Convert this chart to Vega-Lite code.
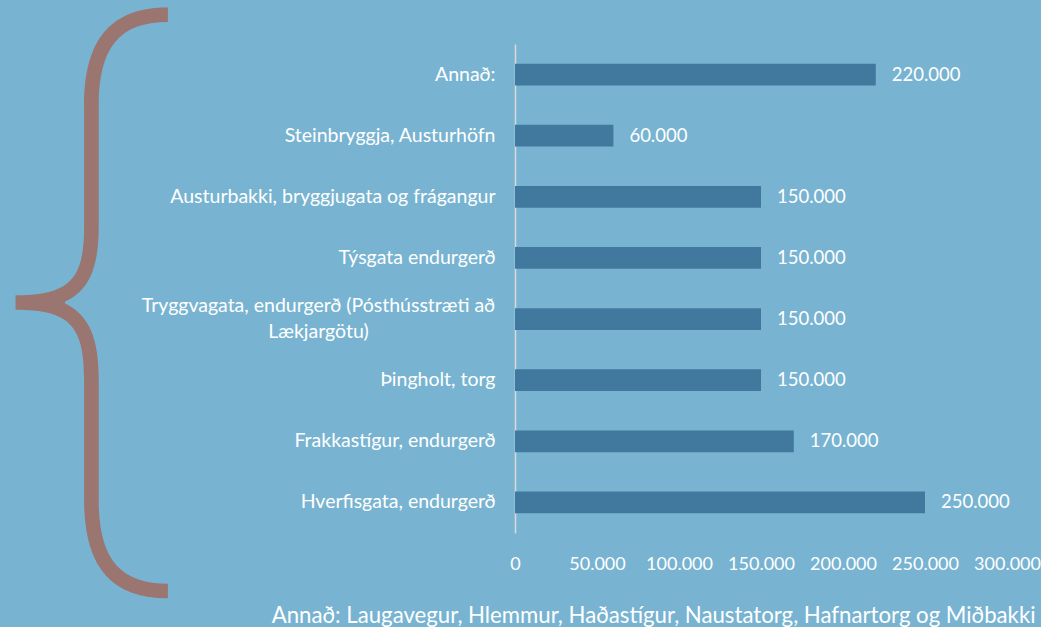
{
  "$schema": "https://vega.github.io/schema/vega-lite/v6.json",
  "width": 492,
  "height": 489,
  "autosize": {"type": "none"},
  "padding": {"left": 515, "top": 44, "right": 34, "bottom": 94},
  "background": "#78b4d1",
  "config": {
    "view": {"stroke": null},
    "font": "Lato",
    "locale": {"number": {"decimal": ",", "thousands": ".", "grouping": [3], "currency": ["", " kr."]}}
  },
  "data": {
    "values": [
      {"verkefni": "Annað:", "upphaed": 220000},
      {"verkefni": "Steinbryggja, Austurhöfn", "upphaed": 60000},
      {"verkefni": "Austurbakki, bryggjugata og frágangur", "upphaed": 150000},
      {"verkefni": "Týsgata endurgerð", "upphaed": 150000},
      {"verkefni": "Tryggvagata, endurgerð (Pósthússtræti að Lækjargötu)", "upphaed": 150000},
      {"verkefni": "Þingholt, torg", "upphaed": 150000},
      {"verkefni": "Frakkastígur, endurgerð", "upphaed": 170000},
      {"verkefni": "Hverfisgata, endurgerð", "upphaed": 250000}
    ]
  },
  "encoding": {
    "y": {
      "field": "verkefni",
      "type": "nominal",
      "sort": null,
      "scale": {"paddingInner": 0.645, "paddingOuter": 0.3225},
      "axis": {
        "title": "{",
        "titleFont": "Inter",
        "titleFontWeight": 100,
        "titleFontSize": 650,
        "titleColor": "#9b7570",
        "titleAngle": 0,
        "titleAlign": "center",
        "titleBaseline": "middle",
        "titleX": -426,
        "titleY": 270,
        "labelFont": "Lato",
        "labelFontSize": 19.5,
        "labelColor": "#ffffff",
        "labelLimit": 0,
        "labelLineHeight": 26,
        "labelExpr": "datum.value == 'Tryggvagata, endurgerð (Pósthússtræti að Lækjargötu)' ? ['Tryggvagata, endurgerð (Pósthússtræti að', 'Lækjargötu)'] : datum.label",
        "labelAlign": {"condition": {"test": "datum.value == 'Tryggvagata, endurgerð (Pósthússtræti að Lækjargötu)'", "value": "center"}, "value": "right"},
        "labelPadding": {"condition": {"test": "datum.value == 'Tryggvagata, endurgerð (Pósthússtræti að Lækjargötu)'", "value": 197}, "value": 20},
        "labelOffset": {"condition": {"test": "datum.value == 'Tryggvagata, endurgerð (Pósthússtræti að Lækjargötu)'", "value": -13}, "value": 0},
        "ticks": false,
        "grid": false,
        "domainColor": "#d9d9d9",
        "domainWidth": 1.5
      }
    },
    "x": {
      "field": "upphaed",
      "type": "quantitative",
      "scale": {"domain": [0, 300000]},
      "axis": {
        "title": "Annað: Laugavegur, Hlemmur, Haðastígur, Naustatorg, Hafnartorg og Miðbakki",
        "titleFont": "Lato",
        "titleFontSize": 22.2,
        "titleFontWeight": "normal",
        "titleColor": "#ffffff",
        "titleAlign": "right",
        "titleBaseline": "alphabetic",
        "titleX": 520,
        "titleY": 89,
        "values": [0, 50000, 100000, 150000, 200000, 250000, 300000],
        "labelExpr": "replace(format(datum.value, ',.0f'), ',', '.')",
        "grid": false,
        "domain": false,
        "ticks": false,
        "labelFlush": false,
        "labelOverlap": false,
        "labelPadding": 22,
        "labelFont": "Lato",
        "labelFontSize": 18,
        "labelColor": "#ffffff"
      }
    }
  },
  "layer": [
    {"mark": {"type": "bar", "color": "#41799e"}},
    {
      "mark": {"type": "text", "align": "left", "baseline": "middle", "dx": 16, "color": "#ffffff", "font": "Lato", "fontSize": 18.5},
      "encoding": {"text": {"field": "upphaed", "type": "quantitative", "format": ",.0f"}}
    }
  ]
}
